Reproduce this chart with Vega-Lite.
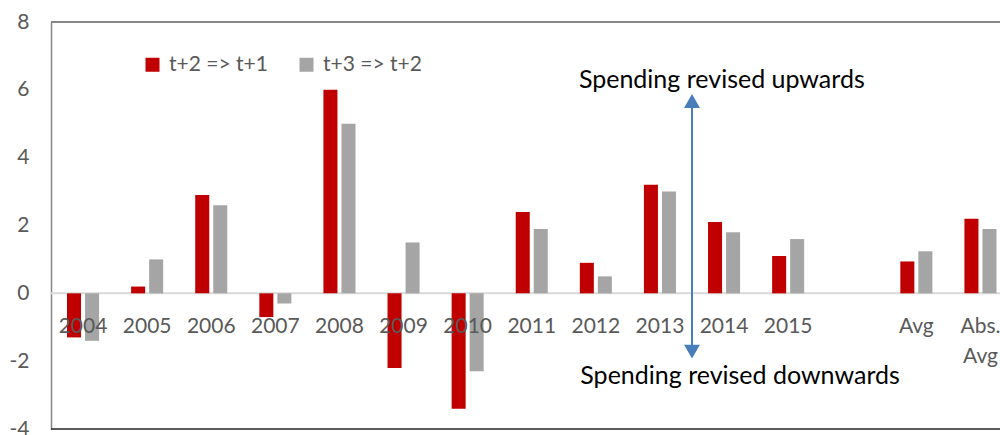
{
  "$schema": "https://vega.github.io/schema/vega-lite/v6.json",
  "width": 949,
  "height": 407,
  "autosize": "none",
  "padding": {"left": 51, "top": 22, "right": 0, "bottom": 6},
  "background": "white",
  "config": {"view": {"stroke": null}, "font": "Lato"},
  "datasets": {
    "bars": [
      {"cat": "2004", "series": "t+2 => t+1", "value": -1.3},
      {"cat": "2004", "series": "t+3 => t+2", "value": -1.4},
      {"cat": "2005", "series": "t+2 => t+1", "value": 0.2},
      {"cat": "2005", "series": "t+3 => t+2", "value": 1.0},
      {"cat": "2006", "series": "t+2 => t+1", "value": 2.9},
      {"cat": "2006", "series": "t+3 => t+2", "value": 2.6},
      {"cat": "2007", "series": "t+2 => t+1", "value": -0.7},
      {"cat": "2007", "series": "t+3 => t+2", "value": -0.3},
      {"cat": "2008", "series": "t+2 => t+1", "value": 6.0},
      {"cat": "2008", "series": "t+3 => t+2", "value": 5.0},
      {"cat": "2009", "series": "t+2 => t+1", "value": -2.2},
      {"cat": "2009", "series": "t+3 => t+2", "value": 1.5},
      {"cat": "2010", "series": "t+2 => t+1", "value": -3.4},
      {"cat": "2010", "series": "t+3 => t+2", "value": -2.3},
      {"cat": "2011", "series": "t+2 => t+1", "value": 2.4},
      {"cat": "2011", "series": "t+3 => t+2", "value": 1.9},
      {"cat": "2012", "series": "t+2 => t+1", "value": 0.9},
      {"cat": "2012", "series": "t+3 => t+2", "value": 0.5},
      {"cat": "2013", "series": "t+2 => t+1", "value": 3.2},
      {"cat": "2013", "series": "t+3 => t+2", "value": 3.0},
      {"cat": "2014", "series": "t+2 => t+1", "value": 2.1},
      {"cat": "2014", "series": "t+3 => t+2", "value": 1.8},
      {"cat": "2015", "series": "t+2 => t+1", "value": 1.1},
      {"cat": "2015", "series": "t+3 => t+2", "value": 1.6},
      {"cat": "Avg", "series": "t+2 => t+1", "value": 0.94},
      {"cat": "Avg", "series": "t+3 => t+2", "value": 1.24},
      {"cat": "Abs. Avg", "series": "t+2 => t+1", "value": 2.2},
      {"cat": "Abs. Avg", "series": "t+3 => t+2", "value": 1.9}
    ],
    "arrow": [{"cat": "2013", "top": 5.62, "bottom": -1.66}],
    "heads": [
      {"cat": "2013", "y": 5.67, "dir": "up"},
      {"cat": "2013", "y": -1.72, "dir": "down"}
    ],
    "notes": [
      {"cat": "2014", "label": "Spending revised upwards", "y": 6.29, "pos": "up"},
      {"cat": "2014", "label": "Spending revised downwards", "y": -2.44, "pos": "down"}
    ],
    "frame": [{"top": 8, "bottom": -4, "zero": 0}]
  },
  "layer": [
    {
      "data": {"name": "frame"},
      "mark": {"type": "rule", "color": "#D9D9D9", "strokeWidth": 2},
      "encoding": {"y": {"field": "zero", "type": "quantitative"}}
    },
    {
      "data": {"name": "bars"},
      "mark": {"type": "bar"},
      "encoding": {
        "x": {
          "field": "cat",
          "type": "nominal",
          "sort": null,
          "scale": {
            "domain": ["2004", "2005", "2006", "2007", "2008", "2009", "2010", "2011", "2012", "2013", "2014", "2015", " ", "Avg", "Abs. Avg"],
            "range": [0, 961.5],
            "paddingInner": 0.5,
            "paddingOuter": 0.25
          },
          "axis": {
            "title": null,
            "orient": "bottom",
            "offset": -135.7,
            "domain": false,
            "ticks": false,
            "labelAngle": 0,
            "labelPadding": 22,
            "labelFontSize": 21,
            "labelColor": "#595959",
            "labelFont": "Lato",
            "labelOverlap": false,
            "labelBound": false,
            "labelFlush": false,
            "labelLineHeight": 30,
            "zindex": 1,
            "labelExpr": "datum.value == 'Abs. Avg' ? ['Abs.', 'Avg'] : datum.value"
          }
        },
        "xOffset": {
          "field": "series",
          "type": "nominal",
          "scale": {"domain": ["t+2 => t+1", "t+3 => t+2"], "paddingInner": 0.222, "paddingOuter": 0}
        },
        "y": {
          "field": "value",
          "type": "quantitative",
          "scale": {"domain": [-4, 8], "nice": false, "zero": false},
          "axis": {
            "title": null,
            "values": [-4, -2, 0, 2, 4, 6, 8],
            "ticks": false,
            "grid": false,
            "domainColor": "#868686",
            "domainWidth": 1.5,
            "labelFontSize": 21,
            "labelColor": "#595959",
            "labelFont": "Lato",
            "labelPadding": 22,
            "labelExpr": "'' + datum.value"
          }
        },
        "color": {
          "field": "series",
          "type": "nominal",
          "scale": {"domain": ["t+2 => t+1", "t+3 => t+2"], "range": ["#C00000", "#A5A5A5"]},
          "legend": {
            "title": null,
            "orient": "none",
            "legendX": 91,
            "legendY": 32,
            "direction": "horizontal",
            "symbolType": "square",
            "symbolSize": 196,
            "symbolStrokeWidth": 0,
            "labelFontSize": 21,
            "labelColor": "#595959",
            "labelFont": "Lato",
            "columnPadding": 28,
            "labelOffset": 6
          }
        }
      }
    },
    {
      "data": {"name": "frame"},
      "mark": {"type": "rule", "color": "#868686", "strokeWidth": 2},
      "encoding": {"y": {"field": "top", "type": "quantitative"}}
    },
    {
      "data": {"name": "frame"},
      "mark": {"type": "rule", "color": "#262626", "strokeWidth": 1.5},
      "encoding": {"y": {"field": "bottom", "type": "quantitative"}}
    },
    {
      "data": {"name": "arrow"},
      "mark": {"type": "rule", "color": "#4A7EBB", "strokeWidth": 2},
      "encoding": {
        "x": {"field": "cat", "type": "nominal", "bandPosition": 1.5},
        "y": {"field": "top", "type": "quantitative"},
        "y2": {"field": "bottom"}
      }
    },
    {
      "data": {"name": "heads"},
      "mark": {"type": "point", "filled": true, "color": "#4A7EBB", "size": 256, "opacity": 1},
      "encoding": {
        "x": {"field": "cat", "type": "nominal", "bandPosition": 1.5},
        "y": {"field": "y", "type": "quantitative"},
        "shape": {
          "field": "dir",
          "type": "nominal",
          "scale": {"domain": ["up", "down"], "range": ["triangle-up", "triangle-down"]},
          "legend": null
        }
      }
    },
    {
      "data": {"name": "notes"},
      "transform": [{"filter": "datum.pos == 'up'"}],
      "mark": {"type": "text", "fontSize": 25, "font": "Lato", "color": "#000000", "align": "center", "baseline": "middle"},
      "encoding": {
        "x": {"field": "cat", "type": "nominal", "bandPosition": 0.43},
        "y": {"field": "y", "type": "quantitative"},
        "text": {"field": "label"}
      }
    },
    {
      "data": {"name": "notes"},
      "transform": [{"filter": "datum.pos == 'down'"}],
      "mark": {"type": "text", "fontSize": 25, "font": "Lato", "color": "#000000", "align": "center", "baseline": "middle"},
      "encoding": {
        "x": {"field": "cat", "type": "nominal", "bandPosition": 1.0},
        "y": {"field": "y", "type": "quantitative"},
        "text": {"field": "label"}
      }
    }
  ]
}
